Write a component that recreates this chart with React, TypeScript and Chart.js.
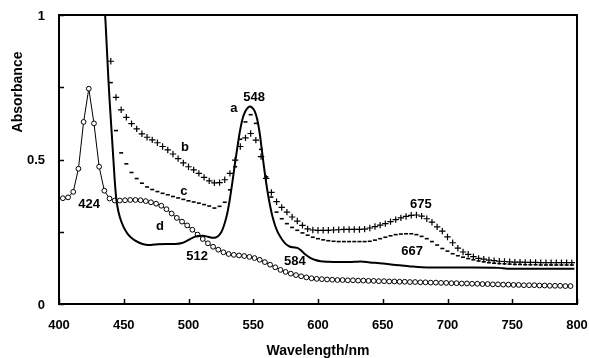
import React, { useEffect, useRef } from "react";
import { Chart, registerables } from "chart.js";

Chart.register(...registerables);

// ---- Curve a (solid line) ----
const aWavelength = [
  435.2, 436, 437, 438, 439, 440, 441, 442, 443, 444, 445, 447, 450, 453, 457, 462, 467, 471, 476, 483,
  490, 495, 499, 503, 507, 511, 515, 519, 521, 524, 526, 528, 530, 532, 534, 536, 538, 540, 542, 544,
  546, 547.5, 549, 551, 553, 555, 557, 559, 561, 563, 565, 567, 569, 572, 575, 578, 581, 584, 587, 590,
  594, 598, 602, 608, 615, 622, 628, 633, 640, 650, 660, 670, 680, 690, 700, 720, 740, 746, 760, 780, 798,
];
const seriesA = [
  1.03, 0.97, 0.88, 0.79, 0.71, 0.64, 0.57, 0.5, 0.43, 0.375, 0.34, 0.3, 0.265, 0.243, 0.225, 0.212, 0.205, 0.204, 0.207, 0.208,
  0.208, 0.211, 0.219, 0.229, 0.235, 0.236, 0.233, 0.229, 0.23, 0.24, 0.255, 0.28, 0.315, 0.365, 0.425, 0.49, 0.55, 0.605, 0.645, 0.668,
  0.68, 0.683, 0.68, 0.668, 0.64, 0.59, 0.52, 0.45, 0.39, 0.34, 0.3, 0.27, 0.248, 0.225, 0.208, 0.199, 0.196, 0.194, 0.185, 0.172,
  0.16, 0.152, 0.148, 0.146, 0.145, 0.145, 0.146, 0.147, 0.144, 0.14, 0.135, 0.131, 0.127, 0.126, 0.126, 0.126, 0.125, 0.122, 0.122, 0.122, 0.122,
];

// ---- Curves b (+) and c (-) ----
const bcWavelength = [
  440, 444, 448, 452, 456, 460, 464, 468, 472, 476,
  480, 484, 488, 492, 496, 500, 504, 508, 512, 516,
  520, 524, 528, 532, 536, 540, 544, 548, 552, 556,
  560, 564, 568, 572, 576, 580, 584, 588, 592, 596,
  600, 604, 608, 612, 616, 620, 624, 628, 632, 636,
  640, 644, 648, 652, 656, 660, 664, 668, 672, 676,
  680, 684, 688, 692, 696, 700, 704, 708, 712, 716,
  720, 724, 728, 732, 736, 740, 744, 748, 752, 756,
  760, 764, 768, 772, 776, 780, 784, 788, 792, 796,
];
const seriesB = [
  0.84, 0.715, 0.672, 0.646, 0.624, 0.606, 0.589, 0.577, 0.568, 0.558,
  0.545, 0.533, 0.519, 0.503, 0.488, 0.475, 0.464, 0.452, 0.438, 0.426,
  0.419, 0.42, 0.43, 0.452, 0.498, 0.545, 0.575, 0.59, 0.567, 0.51,
  0.435, 0.386, 0.354, 0.334, 0.318, 0.301, 0.287, 0.272, 0.26, 0.256,
  0.255, 0.255, 0.255, 0.256, 0.257, 0.258, 0.258, 0.258, 0.258, 0.259,
  0.263, 0.268, 0.273, 0.278, 0.285, 0.292, 0.298, 0.303, 0.307, 0.308,
  0.304, 0.295, 0.283, 0.267, 0.252, 0.232, 0.212, 0.193, 0.18, 0.172,
  0.164, 0.158, 0.155, 0.152, 0.15, 0.148, 0.147, 0.146, 0.145, 0.145,
  0.144, 0.144, 0.144, 0.143, 0.143, 0.143, 0.143, 0.143, 0.143, 0.143,
];
const seriesC = [
  0.766, 0.6, 0.523, 0.485, 0.455, 0.434, 0.418, 0.405, 0.396, 0.389,
  0.383, 0.378, 0.372, 0.367, 0.362, 0.357, 0.353, 0.349, 0.344, 0.339,
  0.332, 0.338, 0.352, 0.395, 0.475, 0.57, 0.63, 0.655, 0.625, 0.535,
  0.44, 0.37, 0.318, 0.295, 0.278, 0.265, 0.255, 0.246, 0.238, 0.231,
  0.226, 0.222, 0.219, 0.217, 0.216, 0.216, 0.216, 0.216, 0.216, 0.216,
  0.217, 0.221, 0.226, 0.231, 0.236, 0.24, 0.242, 0.243, 0.243, 0.24,
  0.234, 0.226, 0.216, 0.204, 0.192, 0.183, 0.174, 0.167, 0.162, 0.157,
  0.153, 0.149, 0.146, 0.143, 0.141, 0.14, 0.139, 0.138, 0.137, 0.137,
  0.136, 0.136, 0.136, 0.135, 0.135, 0.135, 0.135, 0.135, 0.135, 0.135,
];

// ---- Curve d (circles) ----
const dWavelength = [
  403, 407, 411, 415, 419, 423, 427, 431, 435, 439,
  443, 447, 451, 455, 459, 463, 467, 471, 475, 479,
  483, 487, 491, 495, 499, 503, 507, 511, 515, 519,
  523, 527, 531, 535, 539, 543, 547, 551, 555, 559,
  563, 567, 571, 575, 579, 583, 587, 591, 595, 599,
  603, 607, 611, 615, 619, 623, 627, 631, 635, 639,
  643, 647, 651, 655, 659, 663, 667, 671, 675, 679,
  683, 687, 691, 695, 699, 703, 707, 711, 715, 719,
  723, 727, 731, 735, 739, 743, 747, 751, 755, 759,
  763, 767, 771, 775, 779, 783, 787, 791, 795,
];
const seriesD = [
  0.366, 0.369, 0.388, 0.468, 0.63, 0.745, 0.625, 0.475, 0.392, 0.365,
  0.358, 0.358, 0.359, 0.36, 0.36, 0.359, 0.356, 0.352, 0.347, 0.34,
  0.328, 0.313, 0.298, 0.285, 0.272, 0.257, 0.24, 0.225, 0.21, 0.198,
  0.188, 0.179, 0.173, 0.17, 0.168, 0.166, 0.163, 0.159, 0.153, 0.145,
  0.136, 0.127, 0.118, 0.111, 0.105, 0.1, 0.096, 0.092, 0.089, 0.087,
  0.086, 0.085, 0.084, 0.083, 0.083, 0.082, 0.082, 0.081, 0.081, 0.08,
  0.08, 0.079, 0.079, 0.078, 0.078, 0.077, 0.077, 0.076, 0.076, 0.075,
  0.075, 0.074, 0.074, 0.073, 0.073, 0.072, 0.072, 0.071, 0.071, 0.07,
  0.07, 0.069, 0.069, 0.068, 0.068, 0.067, 0.067, 0.066, 0.066, 0.065,
  0.065, 0.065, 0.064, 0.064, 0.063, 0.063, 0.063, 0.062, 0.062,
];

// ---- Annotations (text, wavelength, absorbance) ----
const noteTexts = ["a", "548", "b", "c", "d", "512", "584", "424", "675", "667"];
const noteWavelength = [535.1, 550.6, 497.3, 496.5, 478, 506.6, 582.2, 423.2, 679.5, 672.6];
const noteAbsorbance = [0.678, 0.716, 0.543, 0.391, 0.27, 0.163, 0.149, 0.343, 0.346, 0.183];

// ---- Axes ----
const xTickValues = [400, 450, 500, 550, 600, 650, 700, 750, 800];
const yTickValues = [0, 0.25, 0.5, 0.75, 1];
const yLabelled = [0, 0.5, 1];
const xTitle = "Wavelength/nm";
const yTitle = "Absorbance";

const FONT = '"Liberation Sans", Arial, sans-serif';

const toPoints = (xs: number[], ys: number[]) => xs.map((x, i) => ({ x, y: ys[i] }));

const overlay = {
  id: "overlay",
  afterDraw(chart: any) {
    const { ctx, chartArea } = chart;
    const { left, right, top, bottom } = chartArea;
    const xs = chart.scales.x;
    const ys = chart.scales.y;
    ctx.save();
    ctx.strokeStyle = "#000";
    ctx.lineWidth = 2;
    ctx.strokeRect(left, top, right - left, bottom - top);
    ctx.lineWidth = 1.5;
    ctx.beginPath();
    xTickValues.forEach((v) => {
      const px = Math.round(xs.getPixelForValue(v)) + 0.5;
      ctx.moveTo(px, bottom);
      ctx.lineTo(px, bottom - 5);
    });
    yTickValues.forEach((v) => {
      const py = Math.round(ys.getPixelForValue(v)) + 0.5;
      ctx.moveTo(left, py);
      ctx.lineTo(left + 5, py);
    });
    ctx.stroke();

    ctx.fillStyle = "#000";
    ctx.font = `bold 13px ${FONT}`;
    ctx.textBaseline = "middle";
    // tick labels
    ctx.textAlign = "center";
    xTickValues.forEach((v) => {
      ctx.fillText(String(v), xs.getPixelForValue(v), bottom + 21);
    });
    ctx.textAlign = "right";
    yLabelled.forEach((v) => {
      ctx.fillText(String(v), left - 14, ys.getPixelForValue(v) + 1);
    });
    // annotations
    ctx.textAlign = "center";
    noteTexts.forEach((t, i) => {
      ctx.fillText(t, xs.getPixelForValue(noteWavelength[i]), ys.getPixelForValue(noteAbsorbance[i]));
    });

    ctx.font = `bold 14px ${FONT}`;
    ctx.fillText(xTitle, 318, 351);
    ctx.translate(18, 92);
    ctx.rotate(-Math.PI / 2);
    ctx.fillText(yTitle, 0, 0);
    ctx.restore();
  },
};

export default function App() {
  const ref = useRef<HTMLCanvasElement>(null);
  useEffect(() => {
    if (!ref.current) return;
    const chart = new Chart(ref.current, {
      type: "line",
      data: {
        datasets: [
          {
            label: "a",
            data: toPoints(aWavelength, seriesA),
            borderColor: "#000",
            borderWidth: 2,
            pointRadius: 0,
            cubicInterpolationMode: "monotone",
          },
          {
            label: "b",
            data: toPoints(bcWavelength, seriesB),
            showLine: false,
            pointStyle: "cross",
            pointRadius: 3.2,
            pointBorderWidth: 1.2,
            pointBorderColor: "#000",
            borderColor: "#000",
          },
          {
            label: "c",
            data: toPoints(bcWavelength, seriesC),
            showLine: false,
            pointStyle: "line",
            pointRadius: 2,
            pointBorderWidth: 1.6,
            pointBorderColor: "#000",
            borderColor: "#000",
          },
          {
            label: "d",
            data: toPoints(dWavelength, seriesD),
            borderColor: "#000",
            borderWidth: 1,
            pointStyle: "circle",
            pointRadius: 2.4,
            pointBorderWidth: 1,
            pointBorderColor: "#000",
            pointBackgroundColor: "#fff",
          },
        ],
      },
      options: {
        animation: false,
        responsive: false,
        events: [],
        layout: { padding: { left: 0, right: 12, top: 15, bottom: 0 } },
        plugins: { legend: { display: false }, tooltip: { enabled: false } },
        scales: {
          x: {
            type: "linear",
            min: 400,
            max: 800,
            grid: { display: false, drawTicks: false },
            border: { display: false },
            ticks: { display: false, stepSize: 50 },
            afterFit: (s: any) => {
              s.height = 54;
            },
          },
          y: {
            type: "linear",
            min: 0,
            max: 1,
            grid: { display: false, drawTicks: false },
            border: { display: false },
            ticks: { display: false, stepSize: 0.25 },
            afterFit: (s: any) => {
              s.width = 59;
            },
          },
        },
      },
      plugins: [overlay],
    });
    return () => chart.destroy();
  }, []);
  return (
    <canvas
      ref={ref}
      width={589}
      height={358}
      style={{ position: "fixed", left: 0, top: 0, display: "block", background: "#fff" }}
    />
  );
}
